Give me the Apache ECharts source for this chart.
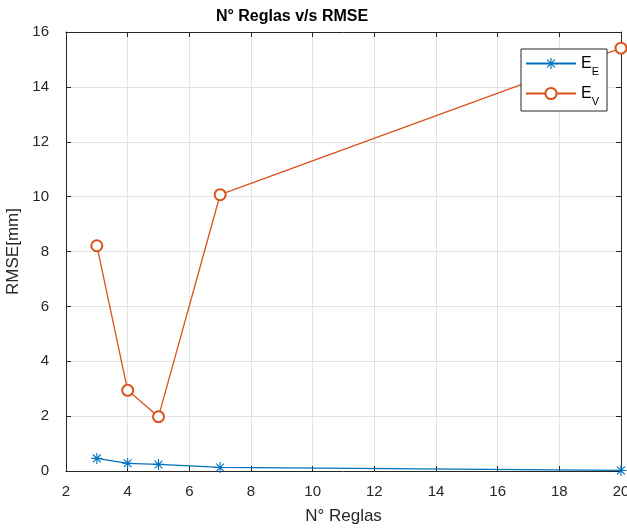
<!DOCTYPE html>
<html>
<head>
<meta charset="utf-8">
<script src="https://cdn.jsdelivr.net/npm/echarts@6/dist/echarts.min.js"></script>
<style>
  html, body { margin: 0; padding: 0; background: #fff; }
  #chart { width: 627px; height: 529px; }
</style>
</head>
<body>
<div id="chart"></div>
<script>
// Number of rules vs RMSE for both error measures
const reglas = [3, 4, 5, 7, 20];
const rmseE = [0.46, 0.28, 0.24, 0.13, 0.02];
const rmseV = [8.21, 2.94, 1.98, 10.07, 15.41];
const xTicks = { min: 2, max: 20, step: 2 };
const yTicks = { min: 0, max: 16, step: 2 };

const axisColor = '#262626';
const font = 'Liberation Sans, Arial, sans-serif';

// 8-armed asterisk marker built from thin bars
const asterisk = 'path://' + [
  'M-0.6,-6L0.6,-6L0.6,6L-0.6,6Z',
  'M-6,-0.6L6,-0.6L6,0.6L-6,0.6Z',
  'M-4.67,-3.82L-3.82,-4.67L4.67,3.82L3.82,4.67Z',
  'M3.82,-4.67L4.67,-3.82L-3.82,4.67L-4.67,3.82Z'
].join('');

const chart = echarts.init(document.getElementById('chart'), null, { renderer: 'canvas' });

const baseX = {
  type: 'value', min: xTicks.min, max: xTicks.max, interval: xTicks.step,
  axisLine: { onZero: false, lineStyle: { color: axisColor, width: 1 } },
  axisTick: { inside: true, length: 5, lineStyle: { color: axisColor } }
};
const baseY = {
  type: 'value', min: yTicks.min, max: yTicks.max, interval: yTicks.step,
  axisLine: { onZero: false, lineStyle: { color: axisColor, width: 1 } },
  axisTick: { inside: true, length: 5, lineStyle: { color: axisColor } }
};

chart.setOption({
  backgroundColor: '#ffffff',
  animation: false,
  title: {
    text: 'N° Reglas v/s RMSE',
    left: 287, top: 4, textAlign: 'center',
    textStyle: { fontFamily: font, fontWeight: 'bold', fontSize: 16, color: '#000' }
  },
  grid: { left: 66, right: 6, top: 32, bottom: 58, outerBoundsMode: 'none', containLabel: false },
  xAxis: [
    Object.assign({}, baseX, {
      position: 'bottom',
      name: 'N° Reglas', nameLocation: 'middle', nameGap: 37,
      nameTextStyle: { fontFamily: font, fontSize: 17, color: axisColor },
      axisLabel: { margin: 13, fontFamily: font, fontSize: 15, color: axisColor },
      splitLine: { show: true, lineStyle: { color: '#e3e3e3', width: 1 } }
    }),
    Object.assign({}, baseX, {
      position: 'top', axisLabel: { show: false }, splitLine: { show: false }
    })
  ],
  yAxis: [
    Object.assign({}, baseY, {
      position: 'left',
      name: 'RMSE[mm]', nameLocation: 'middle', nameGap: 29,
      nameTextStyle: { fontFamily: font, fontSize: 17, color: axisColor },
      axisLabel: { margin: 17, fontFamily: font, fontSize: 15, color: axisColor },
      splitLine: { show: true, lineStyle: { color: '#e3e3e3', width: 1 } }
    }),
    Object.assign({}, baseY, {
      position: 'right', axisLabel: { show: false }, splitLine: { show: false }
    })
  ],
  legend: {
    orient: 'vertical',
    left: 521, top: 49,
    padding: [1, 8, 4, 4],
    itemGap: 3,
    itemWidth: 50, itemHeight: 14,
    backgroundColor: '#ffffff',
    borderColor: axisColor, borderWidth: 1,
    formatter: function (name) {
      return '{m|E}{s|' + name.slice(2) + '}';
    },
    textStyle: {
      rich: {
        m: { fontFamily: font, fontSize: 16, color: '#000', lineHeight: 18 },
        s: { fontFamily: font, fontSize: 11, color: '#000', lineHeight: 14, padding: [16, 0, 0, 0] }
      }
    },
    data: ['E_E', 'E_V']
  },
  series: [
    {
      name: 'E_E', type: 'line',
      data: reglas.map((x, i) => [x, rmseE[i]]),
      color: '#0072BD',
      symbol: asterisk, symbolSize: 11,
      lineStyle: { width: 1.3 },
      clip: false, z: 3
    },
    {
      name: 'E_V', type: 'line',
      data: reglas.map((x, i) => [x, rmseV[i]]),
      color: '#D95319',
      symbol: 'emptyCircle', symbolSize: 11,
      itemStyle: { borderWidth: 1.2 },
      lineStyle: { width: 1.3 },
      clip: false, z: 3
    }
  ]
});
</script>
</body>
</html>
